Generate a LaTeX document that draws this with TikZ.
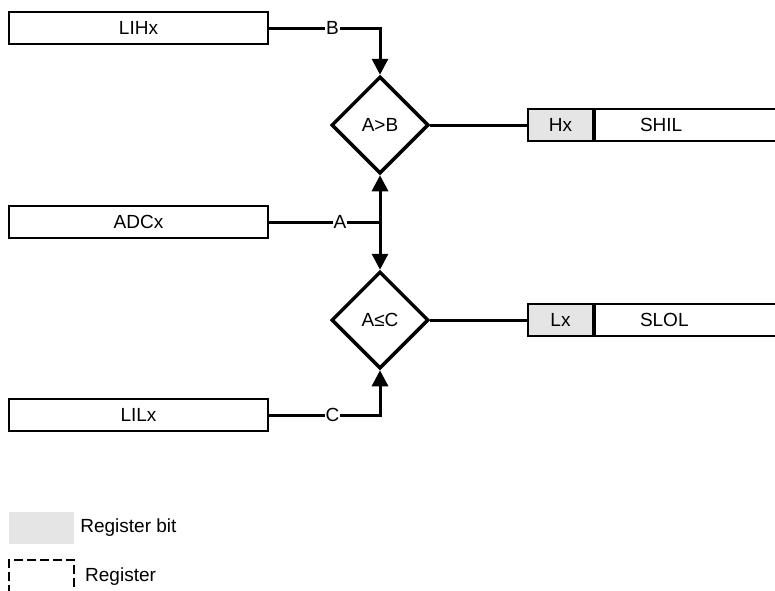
\documentclass[tikz,border=0pt]{standalone}
\usepackage{fontspec}
\setmainfont{Liberation Sans}
\usetikzlibrary{positioning,arrows.meta,shapes.geometric}

\begin{document}
\begin{tikzpicture}[
    x=1pt, y=-1pt,
    font=\fontsize{19}{22}\selectfont,
    box/.style={rectangle,draw,line width=2pt,minimum width=259pt,minimum height=32pt,inner sep=0pt},
    bitbox/.style={rectangle,draw,line width=2pt,fill=gray!20,minimum width=65pt,minimum height=32pt,inner sep=0pt},
    regbox/.style={rectangle,draw,line width=2pt,minimum height=32pt,inner xsep=45pt,inner ysep=0pt,text width=110pt,align=left,anchor=west},
    compare/.style={diamond,draw,line width=3.5pt,minimum width=97pt,minimum height=97pt,inner sep=0pt},
    wire/.style={line width=3pt},
    arrow/.style={wire,-{Triangle[length=16pt,width=16pt]}},
    tag/.style={fill=white,inner sep=1pt}
]

\useasboundingbox (0,0) rectangle (775,590);

% Input registers
\foreach \name/\txt/\y in {lihx/LIHx/28, adcx/ADCx/222, lilx/LILx/415} {
    \node[box] (\name) at (138.5,\y) {\txt};
}

% Comparators
\node[compare] (cmpH) at (380,125) {A>B};
\node[compare] (cmpL) at (380,320) {A≤C};

% Output bits and status registers
\node[bitbox] (hx) at (560.5,125) {Hx};
\node[regbox] (shil) at (hx.east) {SHIL};
\node[bitbox] (lx) at (560.5,320) {Lx};
\node[regbox] (slol) at (lx.east) {SLOL};

% Connect inputs to comparators
\coordinate (split) at (cmpH.south |- adcx.east);
\draw[arrow] (lihx.east) -| (cmpH.north) node[tag,pos=0.286] {B};
\draw[wire] (adcx.east) -- (split) node[tag,pos=0.64] {A};
\draw[arrow] (split) -- (cmpH.south);
\draw[arrow] (split) -- (cmpL.north);
\draw[arrow] (lilx.east) -| (cmpL.south) node[tag,pos=0.286] {C};

% Comparators to bits
\draw[wire] (cmpH.east) -- (hx.west);
\draw[wire] (cmpL.east) -- (lx.west);

% Legend
\node[rectangle,fill=gray!20,minimum width=65pt,minimum height=32pt] (legbit) at (41.5,528) {};
\node[right=6pt of legbit,inner sep=0pt] (legbittxt) {Register bit};
\node[rectangle,draw,dashed,dash pattern=on 9pt off 4pt,line width=2pt,minimum width=65pt,minimum height=40pt] (legreg) at (41.5,580) {};
\node[right=10pt of legreg.east,anchor=west,inner sep=0pt,yshift=3pt] (legregtxt) {Register};

\end{tikzpicture}
\end{document}
